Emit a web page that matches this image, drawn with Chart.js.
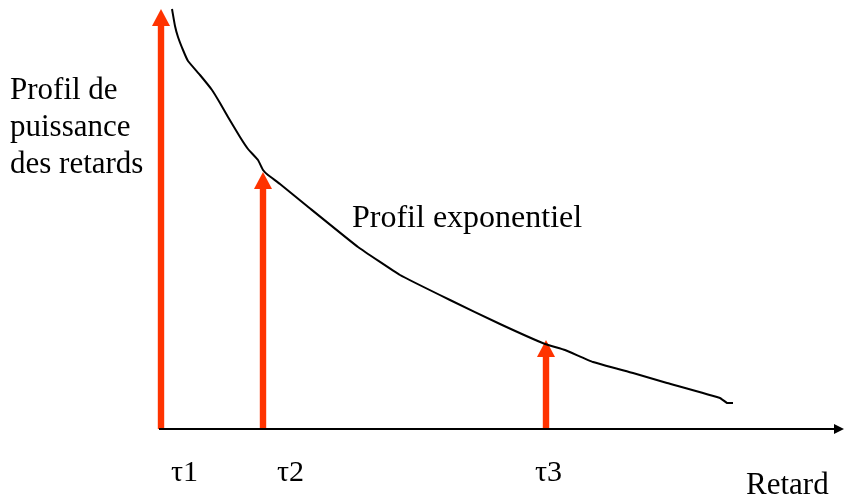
<!DOCTYPE html>
<html>
<head>
<meta charset="utf-8">
<script src="https://cdn.jsdelivr.net/npm/chart.js@4.4.1/dist/chart.umd.min.js"></script>
<style>
  html, body { margin: 0; padding: 0; background: #fff; }
  #wrap { width: 844px; height: 498px; position: relative; }
</style>
</head>
<body>
<div id="wrap"><canvas id="plot"></canvas></div>
<script>
// exponential power delay profile (arbitrary units)
const curveX = [12, 15, 18, 23, 28, 40, 52, 60, 68, 80, 88, 98, 103, 108, 120, 147, 198, 240, 290, 340, 385, 405, 433, 473, 507, 560, 567, 573];
const curveY = [421, 404, 393, 380, 369, 355, 340, 327, 313, 293, 281, 270, 260, 255, 246, 224, 183, 155, 130, 106, 86, 80, 68, 57, 47, 32, 27, 27];

// discrete paths
const tauLabels = ['τ1', 'τ2', 'τ3'];
const tauDelay = [1, 103, 386];
const tauPower = [421, 258, 90];

const yTitle = ['Profil de', 'puissance', 'des retards'];
const curveTitle = 'Profil exponentiel';
const xTitle = 'Retard';

const red = 'rgb(255,51,0)';
const serif = '"Liberation Serif", "Times New Roman", serif';

// arrows, axis and texts, all placed through the chart scales
const diagramPlugin = {
    id: 'diagram',
    beforeDatasetsDraw(chart) {
        const ctx = chart.ctx;
        const xs = chart.scales.x, ys = chart.scales.y;
        const y0 = ys.getPixelForValue(0);
        ctx.save();
        ctx.fillStyle = red;
        tauDelay.forEach((d, i) => {
            const px = xs.getPixelForValue(d);
            const tip = ys.getPixelForValue(tauPower[i]);
            ctx.fillRect(px - 3.2, tip + 14, 6.4, y0 - tip - 15);
            ctx.beginPath();
            ctx.moveTo(px, tip);
            ctx.lineTo(px - 9, tip + 17);
            ctx.lineTo(px + 9, tip + 17);
            ctx.closePath();
            ctx.fill();
        });
        ctx.restore();
    },
    afterDatasetsDraw(chart) {
        const ctx = chart.ctx;
        const xs = chart.scales.x, ys = chart.scales.y;
        const y0 = ys.getPixelForValue(0) - 1;
        const left = chart.chartArea.left;
        const right = chart.width;
        ctx.save();
        // delay axis
        ctx.strokeStyle = '#000';
        ctx.lineWidth = 2;
        ctx.beginPath();
        ctx.moveTo(left - 1, y0);
        ctx.lineTo(right - 8, y0);
        ctx.stroke();
        ctx.fillStyle = '#000';
        ctx.beginPath();
        ctx.moveTo(right, y0);
        ctx.lineTo(right - 10, y0 - 5);
        ctx.lineTo(right - 10, y0 + 5);
        ctx.closePath();
        ctx.fill();

        ctx.textBaseline = 'alphabetic';
        ctx.textAlign = 'left';
        ctx.font = '30px ' + serif;
        const shift = [10, 14, -11];
        tauLabels.forEach((t, i) => {
            ctx.fillText(t, xs.getPixelForValue(tauDelay[i]) + shift[i], 481);
        });
        ctx.font = '31px ' + serif;
        ctx.fillText(xTitle, 746, 494);
        yTitle.forEach((t, i) => ctx.fillText(t, 10, 99 + i * 37));
        ctx.font = '32px ' + serif;
        ctx.fillText(curveTitle, 352, 227);
        ctx.restore();
    }
};

const chartEl = document.getElementById('plot').getContext('2d');
const profileChart = new Chart(chartEl, {
    type: 'scatter',
    data: {
        datasets: [{
            data: curveX.map((x, i) => ({ x: x, y: curveY[i] })),
            showLine: true,
            borderColor: '#000',
            borderWidth: 2,
            pointRadius: 0,
            tension: 0.1
        }]
    },
    options: {
        responsive: true,
        maintainAspectRatio: false,
        animation: false,
        layout: { padding: { left: 160, right: 4, top: 8, bottom: 68 } },
        plugins: { legend: { display: false }, tooltip: { enabled: false } },
        scales: {
            x: { type: 'linear', min: 0, max: 680, display: false },
            y: { type: 'linear', min: 0, max: 422, display: false }
        }
    },
    plugins: [diagramPlugin]
});
</script>
</body>
</html>
